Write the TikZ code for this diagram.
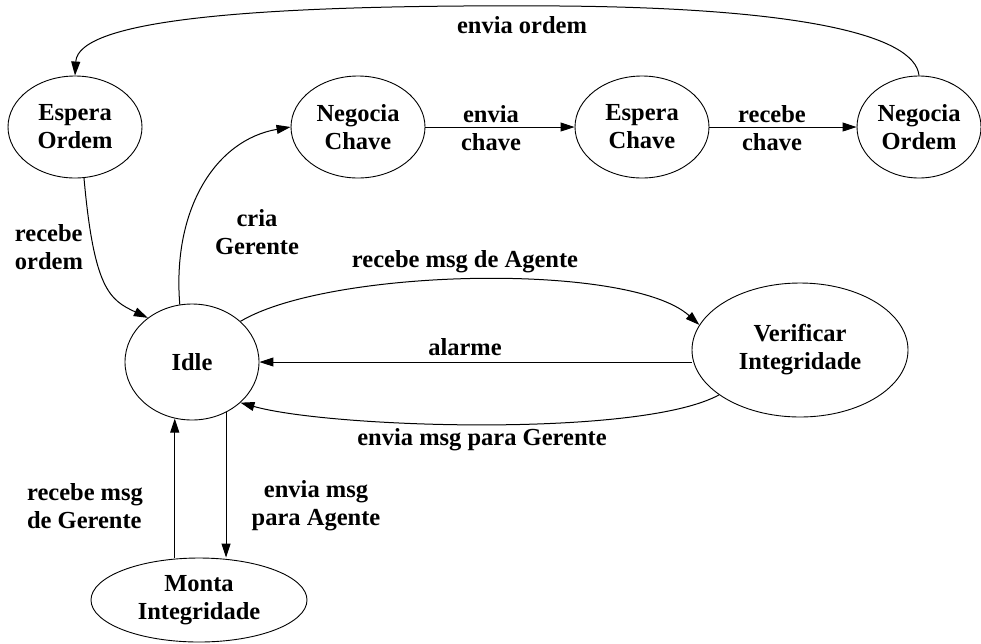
\documentclass[tikz,border=0pt]{standalone}
\usepackage{fontspec}
\setmainfont{Liberation Serif}
\usetikzlibrary{shapes.geometric,arrows.meta}
\begin{document}
\begin{tikzpicture}[x=1pt,y=-1pt,
  state/.style={draw,ellipse,line width=0.9pt,inner sep=0pt,align=center,
    font=\fontsize{24.5}{28}\selectfont\bfseries},
  lbl/.style={align=center,inner sep=0pt,font=\fontsize{24.5}{28}\selectfont\bfseries},
  trans/.style={line width=1pt,-{Triangle[length=14pt,width=9pt]}}]
\useasboundingbox (0,0) rectangle (981,643);

% states
\node[state,minimum width=134pt,minimum height=102pt] (eo) at (75,127) {Espera\\Ordem};
\node[state,minimum width=134pt,minimum height=102pt] (nc) at (358,127) {Negocia\\Chave};
\node[state,minimum width=134pt,minimum height=102pt] (ec) at (642,127) {Espera\\Chave};
\node[state,minimum width=124pt,minimum height=102pt] (no) at (919,127) {Negocia\\Ordem};
\node[state,minimum width=134pt,minimum height=116pt] (idle) at (192,362) {Idle};
\node[state,minimum width=216pt,minimum height=134pt] (vi) at (800,350) {Verificar\\Integridade};
\node[state,minimum width=216pt,minimum height=84pt] (mi) at (199,600) {Monta\\Integridade};

% transitions
\draw[trans] (no.north) .. controls (915,35) and (800,8) .. (560,6)
  .. controls (250,4) and (78,20) .. (eo.north);
\draw[trans] (nc.east) -- (ec.west);
\draw[trans] (ec.east) -- (no.west);
\draw[trans] (eo.-80) .. controls (94,290) and (110,300) .. (idle.135);
\draw[trans] (idle.102) .. controls (172,210) and (215,140) .. (nc.west);
\draw[trans] (idle.40) .. controls (330,268) and (630,262) .. (vi.166);
\draw[trans] (idle.east -| vi.west) -- (idle.east);
\draw[trans] (vi.209) .. controls (640,438) and (330,428) .. (idle.-40);
\draw[trans] (idle.253 |- mi.north) -- (idle.253);
\draw[trans] (idle.304) -- (idle.304 |- mi.north);

% transition labels
\node[lbl] (l1) at (522,25) {envia ordem};
\node[lbl] (l2) at (491,128) {envia\\chave};
\node[lbl] (l3) at (772,128) {recebe\\chave};
\node[lbl,align=left] (l4) at (49,247) {recebe\\ordem};
\node[lbl] (l5) at (257,232) {cria\\Gerente};
\node[lbl] (l6) at (465,262) {recebe msg de Agente};
\node[lbl] (l7) at (465,347) {alarme};
\node[lbl] (l8) at (482,440) {envia msg para Gerente};
\node[lbl,align=left] (l9) at (85,506) {recebe msg\\de Gerente};
\node[lbl] (l10) at (316,506) {envia msg\\para Agente};
\end{tikzpicture}
\end{document}
